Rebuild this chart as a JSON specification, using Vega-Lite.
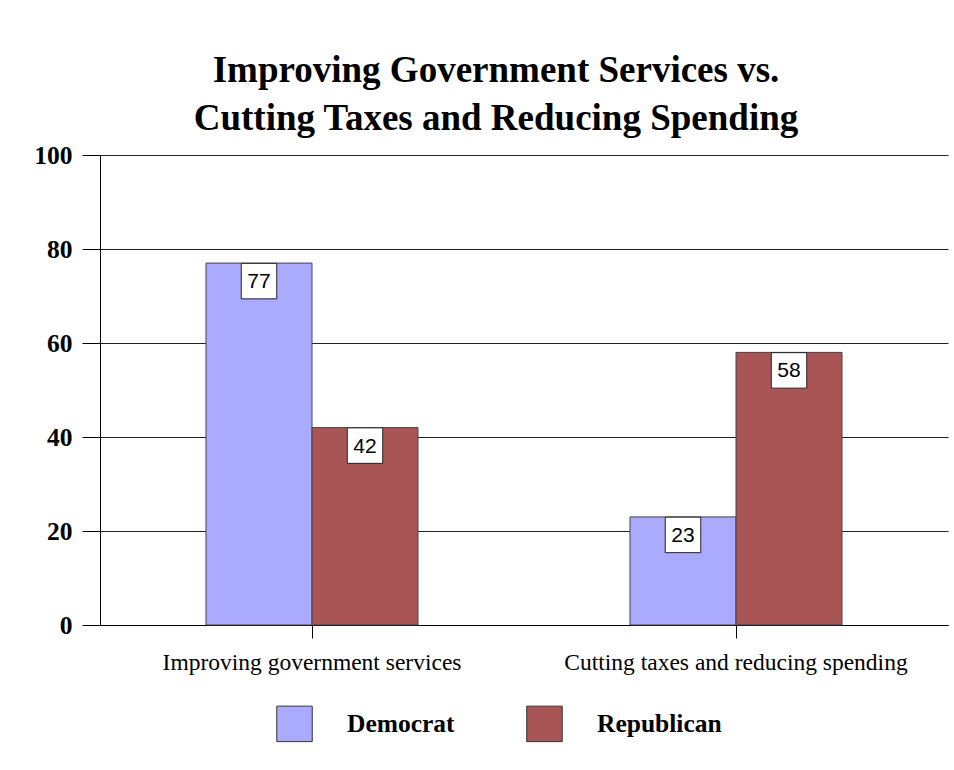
{
  "$schema": "https://vega.github.io/schema/vega-lite/v6.json",
  "autosize": {"type": "none"},
  "width": 848,
  "height": 470,
  "padding": {"left": 100, "top": 155, "right": 6, "bottom": 145},
  "background": "white",
  "title": {
    "text": ["Improving Government Services vs.", "Cutting Taxes and Reducing Spending"],
    "font": "Liberation Serif",
    "fontSize": 37,
    "fontWeight": "bold",
    "color": "black",
    "anchor": "middle",
    "dx": -28,
    "offset": 5,
    "lineHeight": 48
  },
  "data": {
    "values": [
      {"category": "Improving government services", "party": "Democrat", "value": 77},
      {"category": "Improving government services", "party": "Republican", "value": 42},
      {"category": "Cutting taxes and reducing spending", "party": "Democrat", "value": 23},
      {"category": "Cutting taxes and reducing spending", "party": "Republican", "value": 58}
    ]
  },
  "encoding": {
    "x": {
      "field": "category",
      "type": "nominal",
      "sort": ["Improving government services", "Cutting taxes and reducing spending"],
      "scale": {"paddingInner": 0.5, "paddingOuter": 0.25},
      "axis": {
        "title": null,
        "labelAngle": 0,
        "labelFont": "Liberation Serif",
        "labelFontSize": 23.5,
        "labelColor": "black",
        "labelPadding": 12,
        "tickSize": 13,
        "tickColor": "black",
        "domainColor": "black",
        "labelLimit": 500
      }
    },
    "xOffset": {
      "field": "party",
      "type": "nominal",
      "sort": ["Democrat", "Republican"],
      "scale": {"paddingInner": 0, "paddingOuter": 0}
    },
    "y": {
      "field": "value",
      "type": "quantitative",
      "scale": {"domain": [0, 100], "nice": false},
      "axis": {
        "title": null,
        "values": [0, 20, 40, 60, 80, 100],
        "labelFont": "Liberation Serif",
        "labelFontSize": 25.5,
        "labelFontWeight": "bold",
        "labelColor": "black",
        "labelPadding": 10,
        "tickSize": 18,
        "tickColor": "black",
        "domainColor": "black",
        "grid": true,
        "gridColor": "#222222",
        "gridWidth": 1,
        "gridOpacity": 1
      }
    }
  },
  "layer": [
    {
      "mark": {"type": "bar", "stroke": "#444444", "strokeWidth": 1},
      "encoding": {
        "color": {
          "field": "party",
          "type": "nominal",
          "sort": ["Democrat", "Republican"],
          "scale": {"domain": ["Democrat", "Republican"], "range": ["#aaaaff", "#aa5555"]},
          "legend": {
            "title": null,
            "orient": "none",
            "direction": "horizontal",
            "legendX": 176,
            "legendY": 550,
            "symbolType": "square",
            "symbolSize": 1260,
            "symbolStrokeColor": "#333333",
            "symbolStrokeWidth": 1,
            "symbolOpacity": 1,
            "labelFont": "Liberation Serif",
            "labelFontSize": 25.5,
            "labelFontWeight": "bold",
            "labelColor": "black",
            "labelOffset": 34,
            "columnPadding": 69
          }
        }
      }
    },
    {
      "mark": {"type": "point", "shape": "square", "size": 1260, "filled": true, "fill": "white", "stroke": "#222222", "strokeWidth": 1, "opacity": 1, "yOffset": 18}
    },
    {
      "mark": {"type": "text", "font": "Liberation Sans", "fontSize": 21, "color": "black", "yOffset": 19, "baseline": "middle"},
      "encoding": {"text": {"field": "value", "type": "quantitative"}}
    }
  ],
  "config": {
    "view": {"stroke": null},
    "axis": {"domainWidth": 1, "tickWidth": 1}
  }
}
